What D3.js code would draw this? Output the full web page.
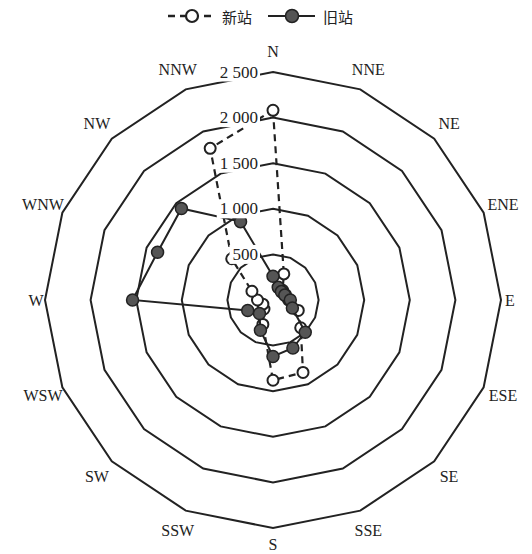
<!DOCTYPE html>
<html>
<head>
<meta charset="utf-8">
<script src="https://cdn.jsdelivr.net/npm/d3@7"></script>
<style>
  html, body { margin: 0; padding: 0; background: #fff; }
  svg text { font-family: "Liberation Serif", "DejaVu Serif", serif; fill: #222; }
</style>
</head>
<body>
<div id="chart"></div>
<script>
// 风向方位（顺时针，从 N 开始）
const directions = ['N', 'NNE', 'NE', 'ENE', 'E', 'ESE', 'SE', 'SSE',
                    'S', 'SSW', 'SW', 'WSW', 'W', 'WNW', 'NW', 'NNW'];
// 新站 / 旧站 各方位数值
const newStation = [2080, 310, 150, 150, 170, 300, 430, 860,
                    880, 290, 140, 120, 170, 250, 640, 1800];
const oldStation = [260, 150, 130, 140, 190, 230, 500, 570,
                    620, 360, 210, 300, 1540, 1370, 1420, 930];
const ringTicks = [500, 1000, 1500, 2000, 2500];
const ringLabels = ['500', '1 000', '1 500', '2 000', '2 500'];
const seriesNames = ['新站', '旧站'];

const W = 532, H = 554;
const cx = 273, cy = 300;
const R = 228;
const ink = '#222';

const svg = d3.select('#chart').append('svg')
  .attr('width', W).attr('height', H);

const r = d3.scaleLinear().domain([0, 2500]).range([0, R]);
const angle = d3.scaleLinear().domain([0, directions.length]).range([0, 2 * Math.PI]);

const g = svg.append('g').attr('transform', `translate(${cx},${cy})`);

const radial = d3.lineRadial()
  .angle((d, i) => angle(i))
  .radius(d => r(d))
  .curve(d3.curveLinearClosed);

const pt = (v, i) => {
  const a = angle(i);
  return [r(v) * Math.sin(a), -r(v) * Math.cos(a)];
};

// Grid rings (16-gons)
ringTicks.forEach(t => {
  g.append('path')
    .attr('d', radial(directions.map(() => t)))
    .attr('fill', 'none')
    .attr('stroke', ink)
    .attr('stroke-width', 2);
});

// Direction labels
directions.forEach((d, i) => {
  const a = angle(i);
  let lr = 249;
  if (i === 4 || i === 12) lr = 237;
  if (i === 8) lr = 244;
  g.append('text')
    .attr('x', lr * Math.sin(a))
    .attr('y', -lr * Math.cos(a))
    .attr('text-anchor', 'middle')
    .attr('dominant-baseline', 'central')
    .attr('font-size', 16)
    .text(d);
});

// 新站 (dashed, open circles)
g.append('path')
  .attr('d', radial(newStation))
  .attr('fill', 'none')
  .attr('stroke', ink)
  .attr('stroke-width', 2.2)
  .attr('stroke-dasharray', '7,5');

newStation.forEach((v, i) => {
  const [x, y] = pt(v, i);
  g.append('circle')
    .attr('cx', x).attr('cy', y).attr('r', 5.5)
    .attr('fill', '#fff')
    .attr('stroke', ink)
    .attr('stroke-width', 2);
});

// 旧站 (solid, filled circles)
g.append('path')
  .attr('d', radial(oldStation))
  .attr('fill', 'none')
  .attr('stroke', ink)
  .attr('stroke-width', 2);

oldStation.forEach((v, i) => {
  const [x, y] = pt(v, i);
  g.append('circle')
    .attr('cx', x).attr('cy', y).attr('r', 6)
    .attr('fill', '#555')
    .attr('stroke', ink)
    .attr('stroke-width', 1.5);
});

// Ring value labels on the N axis
ringTicks.forEach((t, i) => {
  const lab = g.append('g');
  const txt = lab.append('text')
    .attr('x', -15)
    .attr('y', -r(t))
    .attr('text-anchor', 'end')
    .attr('dominant-baseline', 'central')
    .attr('font-size', 17)
    .text(ringLabels[i]);
  const bb = txt.node().getBBox();
  lab.insert('rect', 'text')
    .attr('x', bb.x - 3).attr('y', bb.y)
    .attr('width', bb.width + 5).attr('height', bb.height)
    .attr('fill', '#fff');
});

// Legend
const leg = svg.append('g').attr('transform', 'translate(0,16)');
leg.append('line')
  .attr('x1', 168).attr('x2', 212)
  .attr('stroke', ink).attr('stroke-width', 2.5)
  .attr('stroke-dasharray', '7,5');
leg.append('circle')
  .attr('cx', 192).attr('r', 6)
  .attr('fill', '#fff').attr('stroke', ink).attr('stroke-width', 2.2);
leg.append('text')
  .attr('x', 222).attr('dominant-baseline', 'central')
  .attr('font-size', 15)
  .style('font-family', '"Noto Sans CJK SC", sans-serif')
  .text(seriesNames[0]);

leg.append('line')
  .attr('x1', 268).attr('x2', 315)
  .attr('stroke', ink).attr('stroke-width', 2);
leg.append('circle')
  .attr('cx', 292).attr('r', 6.5)
  .attr('fill', '#555').attr('stroke', ink).attr('stroke-width', 1.5);
leg.append('text')
  .attr('x', 323).attr('dominant-baseline', 'central')
  .attr('font-size', 15)
  .style('font-family', '"Noto Sans CJK SC", sans-serif')
  .text(seriesNames[1]);
</script>
</body>
</html>
